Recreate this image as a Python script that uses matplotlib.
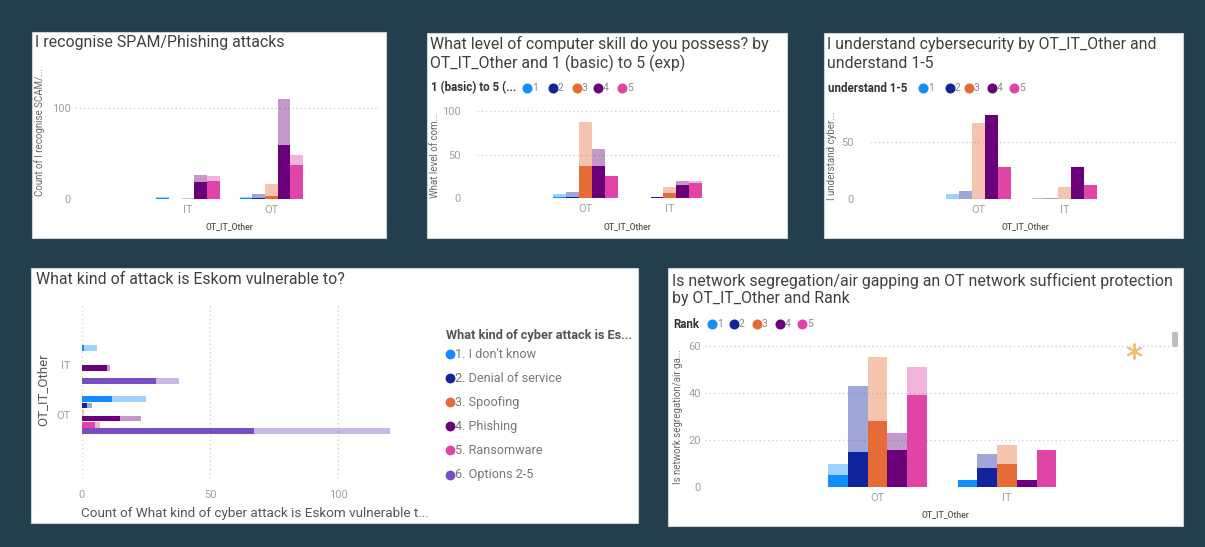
import matplotlib
matplotlib.use("Agg")
import matplotlib.pyplot as plt
from matplotlib.patches import Rectangle, FancyBboxPatch

W, H = 1205, 547
plt.rcParams['font.family'] = ['Roboto', 'DejaVu Sans']

# Power BI default theme colours
PALETTE = ['#118DFF', '#12239E', '#E66C37', '#6B007B', '#E044A7', '#744EC2']
ranks = ['1', '2', '3', '4', '5']

# I recognise SPAM/Phishing attacks  (rows: group, cols: rank 1..5)
spam_groups = ['IT', 'OT']
spam_total = [[2, 0, 1, 26, 25], [2, 5, 16, 110, 48]]
spam_highlight = [[1, 0, 0, 19, 20], [1, 1, 3, 60, 37]]

# computer skill 1 (basic) to 5 (exp)
skill_groups = ['OT', 'IT']
skill_total = [[5, 7, 87, 56, 25], [0, 1, 13, 20, 20]]
skill_highlight = [[1, 2, 37, 37, 25], [0, 1, 6, 15, 17]]

# understand cybersecurity 1-5
understand_groups = ['OT', 'IT']
understand_total = [[4, 7, 67, 74, 28], [1, 1, 11, 28, 12]]
understand_highlight = [[0, 0, 0, 74, 28], [0, 0, 0, 28, 12]]

# attack types Eskom is vulnerable to
attack_groups = ['IT', 'OT']
attack_types = ['1. I don\'t know', '2. Denial of service', '3. Spoofing',
                '4. Phishing', '5. Ransomware', '6. Options 2-5']
attack_total = [[6, 0, 0, 11, 0, 38], [25, 4, 1, 23, 7, 120]]
attack_highlight = [[1, 0, 0, 10, 0, 29], [12, 2, 0, 15, 5, 67]]

# network segregation / air gapping by rank
seg_groups = ['OT', 'IT']
seg_total = [[10, 43, 55, 23, 51], [3, 14, 18, 3, 16]]
seg_highlight = [[5, 15, 28, 16, 39], [3, 8, 10, 3, 16]]

BAR_W = 0.152
ROW_H = 0.1276
GRID = dict(color='#d4d4d4', lw=1.0, linestyle=(0, (1, 2)))
TITLE = dict(size=11.4, color='#404040')

fig = plt.figure(figsize=(W / 100, H / 100), dpi=100)
fig.patch.set_facecolor('#233e4d')
bg = fig.add_axes([0, 0, 1, 1])
bg.set_xlim(0, W)
bg.set_ylim(H, 0)
bg.axis('off')


def panel(x0, y0, x1, y1):
    bg.add_patch(Rectangle((x0, y0), x1 - x0, y1 - y0, facecolor='white',
                           edgecolor='#c9d1d6', lw=0.8))


def px_axes(x0, y0, x1, y1):
    ax = fig.add_axes([x0 / W, 1 - y1 / H, (x1 - x0) / W, (y1 - y0) / H])
    ax.patch.set_alpha(0)
    for s in ax.spines.values():
        s.set_visible(False)
    ax.tick_params(length=0, labelsize=8, labelcolor='#a0a0a0')
    return ax


def txt(x, y, s, size=7, color='#444444', **kw):
    kw.setdefault('va', 'center')
    bg.text(x, y, s, fontsize=size, color=color, **kw)


def columns(ax, groups, totals, highlights, xlim, ylim, yticks, ypad):
    for k in range(5):
        xs = [g + (k - 2) * BAR_W for g in range(len(groups))]
        ax.bar(xs, [t[k] for t in totals], BAR_W, color=PALETTE[k], alpha=0.4, lw=0)
        ax.bar(xs, [h[k] for h in highlights], BAR_W, color=PALETTE[k], lw=0)
    ax.set_xlim(*xlim)
    ax.set_ylim(*ylim)
    ax.set_xticks(range(len(groups)), groups)
    ax.set_yticks(yticks)
    ax.tick_params(axis='x', pad=4)
    ax.tick_params(axis='y', pad=ypad)
    ax.grid(axis='y', **GRID)
    ax.set_axisbelow(True)


def rank_legend(x, y, title, marker_x):
    txt(x, y, title, size=8.3, color='#333333', fontweight='bold')
    for mx, r, c in zip(marker_x, ranks, PALETTE):
        bg.scatter([mx], [y], s=52, color=c, lw=0)
        txt(mx + 5, y, r, size=7.5, color='#8a8a8a')


def x_title(x, y, s):
    txt(x, y, s, size=6.2, color='#555555', ha='center', fontweight='medium')


def y_title(x, y, s):
    txt(x, y, s, size=7, color='#666666', rotation=90, ha='center')


# ---- panel 1 ----
panel(32, 32, 386, 238)
txt(35, 43, 'I recognise SPAM/Phishing attacks', **TITLE)
ax1 = px_axes(75, 73, 380, 199)
columns(ax1, spam_groups, spam_total, spam_highlight,
        (-1.357, 2.305), (0, 139), [0, 100], 3)
y_title(40, 132, 'Count of I recognise SCAM/...')
x_title(230, 227, 'OT_IT_Other')

# ---- panel 2 ----
panel(427, 33, 787, 238)
txt(430, 44, 'What level of computer skill do you possess? by', **TITLE)
txt(430, 63, 'OT_IT_Other and 1 (basic) to 5 (exp)', **TITLE)
rank_legend(431, 88, '1 (basic) to 5 (...', [527, 553, 577, 598, 622])
ax2 = px_axes(477, 103, 780, 198.3)
columns(ax2, skill_groups, skill_total, skill_highlight,
        (-1.287, 2.307), (0, 109.2), [0, 50, 100], 12)
y_title(435, 155, 'What level of com...')
x_title(628, 227, 'OT_IT_Other')

# ---- panel 3 ----
panel(824, 33, 1183, 238)
txt(827, 44, 'I understand cybersecurity by OT_IT_Other and', **TITLE)
txt(827, 63, 'understand 1-5', **TITLE)
rank_legend(828, 88, 'understand 1-5', [923, 950, 969, 992, 1014])
ax3 = px_axes(870, 105, 1178, 199)
columns(ax3, understand_groups, understand_total, understand_highlight,
        (-1.265, 2.316), (0, 82.9), [0, 50], 12)
y_title(832, 156, 'I understand cyber...')
x_title(1025, 227, 'OT_IT_Other')

# ---- panel 4 (horizontal clustered bars) ----
panel(31, 268, 638, 523)
txt(36, 279, 'What kind of attack is Eskom vulnerable to?', **TITLE)
ax4 = px_axes(81.7, 305, 423, 478)
for k in range(6):
    ys = [g + (k - 2.5) * ROW_H for g in range(len(attack_groups))]
    ax4.barh(ys, [t[k] for t in attack_total], ROW_H * 0.9, color=PALETTE[k], alpha=0.4, lw=0)
    ax4.barh(ys, [h[k] for h in attack_highlight], ROW_H * 0.9, color=PALETTE[k], lw=0)
ax4.set_xlim(0, 133)
ax4.set_ylim(2.238, -1.174)
ax4.set_xticks([0, 50, 100])
ax4.set_yticks(range(len(attack_groups)), attack_groups)
ax4.tick_params(axis='x', pad=9, labelsize=8)
ax4.tick_params(axis='y', pad=8, labelsize=8)
ax4.grid(axis='x', **GRID)
ax4.set_axisbelow(True)
txt(43, 390, 'OT_IT_Other', size=9.5, color='#555555', rotation=90, ha='center')
txt(255, 513, 'Count of What kind of cyber attack is Eskom vulnerable t...',
    size=9.7, color='#555555', ha='center')
txt(446, 335, 'What kind of cyber attack is Es...', size=9.2, color='#555555',
    fontweight='bold')
for i, (name, c) in enumerate(zip(attack_types, PALETTE)):
    y = 354 + i * 24.1
    bg.scatter([449.5], [y], s=50, color=c, lw=0)
    txt(455, y, name, size=9.1, color='#777777')

# ---- panel 5 ----
panel(668, 268, 1183, 526)
txt(672, 281, 'Is network segregation/air gapping an OT network sufficient protection',
    **TITLE)
txt(672, 299, 'by OT_IT_Other and Rank', **TITLE)
rank_legend(673, 324, 'Rank', [712, 734, 757, 780, 802])
ax5 = px_axes(705, 340, 1180, 487.3)
columns(ax5, seg_groups, seg_total, seg_highlight,
        (-1.332, 2.336), (0, 62.4), [0, 20, 40, 60], 3)
y_title(678, 417, 'Is network segregation/air ga...')
x_title(945, 515, 'OT_IT_Other')
bg.scatter([1134], [351], s=110, marker=(6, 2, 0), color='#F4BE72', linewidths=1.4)
bg.add_patch(FancyBboxPatch((1172, 332), 6, 15, boxstyle='round,pad=0,rounding_size=1.5',
                            facecolor='#bdbdbd', lw=0))

fig.savefig('out.png', dpi=100, facecolor=fig.get_facecolor())
